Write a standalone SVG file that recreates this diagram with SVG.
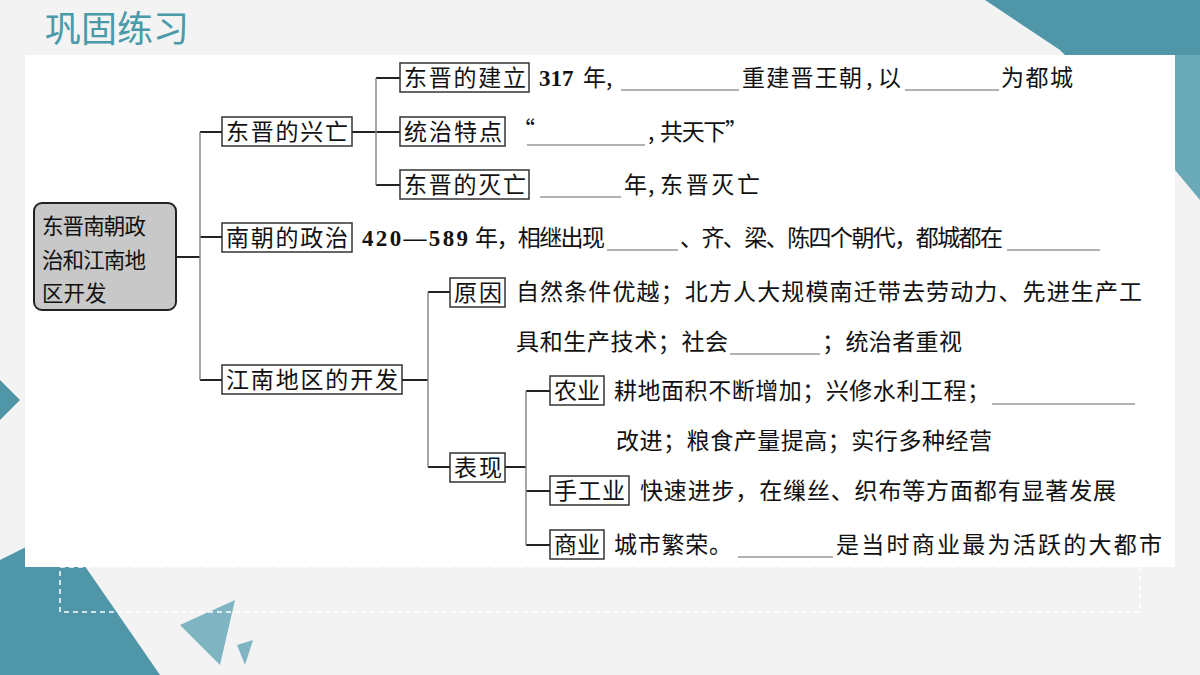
<svg xmlns="http://www.w3.org/2000/svg" width="1200" height="675" viewBox="0 0 1200 675">
<style>
text{font-family:"Noto Sans CJK SC","Noto Sans",sans-serif;fill:#111;font-size:23px}
.b{fill:#fff;stroke:#333;stroke-width:1.5}
.c{stroke:#222;stroke-width:2;fill:none}
.v{stroke:#888;stroke-width:1.5;fill:none}
.u{stroke:#666;stroke-width:1.2}
.n{font-family:"Liberation Serif",serif;font-weight:bold}
</style>
<rect width="1200" height="675" fill="#f3f3f3"/>
<g id="decor">
<polygon points="985,0 1200,0 1200,180 1160,150 1060,50" fill="#4f97a8"/>
<polygon points="1175,55 1200,55 1200,200 1175,170" fill="#6aa9b8"/>
<polygon points="0,560 0,675 160,675 60,530" fill="#4f97a8"/>
<polygon points="0,420 20,400 0,380" fill="#4f97a8"/>
<polygon points="180,625 235,600 220,665" fill="#7fb5c2"/>
<polygon points="237,645 253,640 245,665" fill="#7fb5c2"/>
<rect x="60" y="567" width="1080" height="45" fill="none" stroke="#fff" stroke-dasharray="5,4" stroke-width="1.5"/>
</g>
<rect x="25" y="55" width="1150" height="512" fill="#fff"/>
<text x="45" y="42" style="font-size:36px;fill:#4a9aaa">巩固练习</text>
<g id="connectors">
<path class="c" d="M176,257H200M200,132H222M200,237H222M200,380H222M352,132H376M376,78H400M376,132H400M376,185H400M402,380H428M428,292H450M428,467H450M505,467H526M526,391H550M526,491H550M526,545H550"/>
<path class="v" d="M200,132V380M376,78V185M428,292V467M526,391V545"/>
</g>
<g id="root"><rect x="34" y="203" width="142" height="107" rx="8" fill="#c8c8c8" stroke="#222" stroke-width="2"/>
<text x="42" y="234" style="font-size:21.5px" textLength="104">东晋南朝政</text><text x="42" y="268" style="font-size:21.5px" textLength="104">治和江南地</text><text x="42" y="301" style="font-size:21.5px">区开发</text></g>
<g id="n1"><rect class="b" x="222" y="117" width="130" height="29"/><text x="226" y="140" textLength="122">东晋的兴亡</text></g>
<g id="n2"><rect class="b" x="222" y="223" width="130" height="29"/><text x="226" y="246" textLength="122">南朝的政治</text></g>
<g id="n3"><rect class="b" x="222" y="365" width="180" height="29"/><text x="226" y="388" textLength="172">江南地区的开发</text></g>
<g id="n11"><rect class="b" x="400" y="63" width="129" height="29"/><text x="404" y="86" textLength="122">东晋的建立</text>
<text x="539" y="86" class="n">317</text><text x="583" y="86">年</text><text x="606" y="86">,</text><line class="u" x1="621" y1="90" x2="739" y2="90"/><text x="742" y="86" textLength="120">重建晋王朝</text><text x="866" y="86">,</text><text x="878" y="86">以</text><line class="u" x1="905" y1="90" x2="999" y2="90"/><text x="1001" y="86" textLength="72">为都城</text></g>
<g id="n12"><rect class="b" x="400" y="117" width="105" height="29"/><text x="404" y="140" textLength="98">统治特点</text>
<text x="512" y="138">“</text><line class="u" x1="527" y1="145" x2="645" y2="145"/><text x="648" y="140">,</text><text x="660" y="140" textLength="88">共天下”</text></g>
<g id="n13"><rect class="b" x="400" y="170" width="129" height="29"/><text x="404" y="193" textLength="122">东晋的灭亡</text>
<line class="u" x1="540" y1="197" x2="621" y2="197"/><text x="624" y="193">年</text><text x="648" y="193">,</text><text x="660" y="193" textLength="100">东晋灭亡</text></g>
<g id="n2t"><text x="362" y="246" class="n" textLength="106">420—589</text><text x="475" y="246" textLength="130">年，相继出现</text><line class="u" x1="607" y1="250" x2="678" y2="250"/><text x="680" y="246" textLength="323">、齐、梁、陈四个朝代，都城都在</text><line class="u" x1="1007" y1="250" x2="1100" y2="250"/></g>
<g id="n31"><rect class="b" x="450" y="278" width="55" height="29"/><text x="454" y="301" textLength="48">原因</text>
<text x="516" y="300" textLength="626">自然条件优越；北方人大规模南迁带去劳动力、先进生产工</text>
<text x="516" y="350" textLength="212">具和生产技术；社会</text><line class="u" x1="730" y1="354" x2="820" y2="354"/><text x="822" y="350" textLength="140">；统治者重视</text></g>
<g id="n32"><rect class="b" x="450" y="453" width="55" height="29"/><text x="454" y="476" textLength="48">表现</text></g>
<g id="n321"><rect class="b" x="550" y="376" width="54" height="29"/><text x="554" y="399" textLength="46">农业</text>
<text x="614" y="399" textLength="376">耕地面积不断增加；兴修水利工程；</text><line class="u" x1="992" y1="404" x2="1135" y2="404"/>
<text x="616" y="449" textLength="376">改进；粮食产量提高；实行多种经营</text></g>
<g id="n322"><rect class="b" x="550" y="476" width="79" height="29"/><text x="554" y="499" textLength="71">手工业</text>
<text x="640" y="499" textLength="476">快速进步，在缫丝、织布等方面都有显著发展</text></g>
<g id="n323"><rect class="b" x="550" y="530" width="54" height="29"/><text x="554" y="553" textLength="46">商业</text>
<text x="614" y="553" textLength="118">城市繁荣。</text><line class="u" x1="738" y1="557" x2="833" y2="557"/><text x="836" y="553" textLength="326">是当时商业最为活跃的大都市</text></g>
</svg>
